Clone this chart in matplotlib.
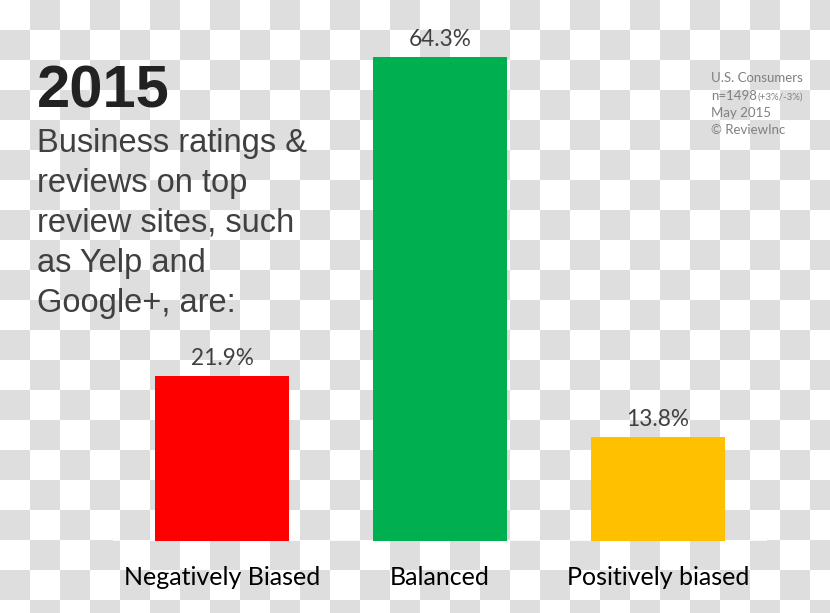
import matplotlib
matplotlib.use("Agg")
import matplotlib.pyplot as plt
import numpy as np

# data
categories = ["Negatively Biased", "Balanced", "Positively biased"]
values = [21.9, 64.3, 13.8]
bar_colors = ["#ff0000", "#00b050", "#ffc000"]

title = "2015"
subtitle_lines = ["Business ratings &", "reviews on top", "review sites, such",
                  "as Yelp and", "Google+, are:"]
notes = ["U.S. Consumers", "n=1498", "May 2015", "\u00a9 ReviewInc"]
margin_note = "(+3%/-3%)"

W, H = 830, 613
fig = plt.figure(figsize=(W / 100, H / 100), dpi=100)

# checkerboard background (transparency look)
cell = 30
yy, xx = np.mgrid[0:H, 0:W]
board = ((xx // cell + yy // cell) % 2).astype(float)
bg = np.where(board[..., None] > 0, 222 / 255, 1.0) * np.ones((H, W, 3))
fig.figimage(bg, xo=0, yo=0, origin="upper", zorder=0)

base_px = 541
top_px = 57
ax = fig.add_axes([113 / W, (H - base_px) / H, 654 / W, (base_px - top_px) / H])
ax.set_zorder(2)
ax.patch.set_alpha(0)
x = np.arange(len(categories))
ax.bar(x, values, width=0.615, color=bar_colors, zorder=2)
ax.set_xlim(-0.5, len(categories) - 0.5)
ax.set_ylim(0, max(values))
ax.axhline(0, color="white", lw=1.2, zorder=1)
for s in ax.spines.values():
    s.set_visible(False)
ax.set_xticks([])
ax.set_yticks([])

for i, v in enumerate(values):
    ax.annotate(f"{v:.1f}%", xy=(i, v), xytext=(0, 8), textcoords="offset points",
                ha="center", va="baseline", fontsize=16.3, family="Lato",
                color="#404040", annotation_clip=False)
    ax.annotate(categories[i], xy=(i, 0), xytext=(0, -32), textcoords="offset points",
                ha="center", va="baseline", fontsize=18, family="Lato",
                color="black", annotation_clip=False)

fig.text(37 / W, 1 - 108 / H, title, fontsize=43, fontweight="bold",
         family="Liberation Sans", color="#222222", va="baseline", zorder=3)
for k, line in enumerate(subtitle_lines):
    fig.text(37 / W, 1 - (152 + 40 * k) / H, line, fontsize=23.5,
             family="Liberation Sans", color="#404040", va="baseline", zorder=3)

note_y = [82, 100, 117, 134]
for txt, yp in zip(notes, note_y):
    fig.text(711 / W, 1 - yp / H, txt, fontsize=9.5, family="Lato",
             color="#808080", va="baseline", zorder=3)
fig.text(757 / W, 1 - note_y[1] / H, margin_note, fontsize=7, family="Lato",
         color="#808080", va="baseline", zorder=3)

fig.savefig("out.png", dpi=100)
